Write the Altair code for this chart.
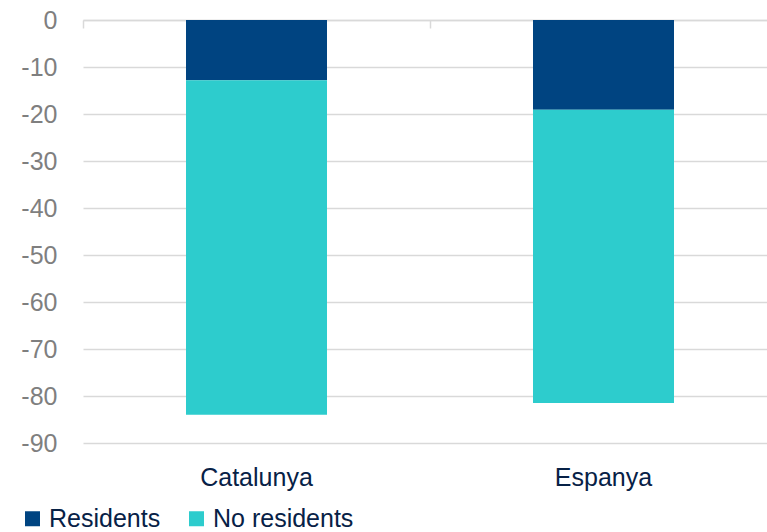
import altair as alt
import pandas as pd

regions = ["Catalunya", "Catalunya", "Espanya", "Espanya"]
groups = ["Residents", "No residents", "Residents", "No residents"]
values = [-12.8, -71.2, -19.1, -62.4]
stack_order = [0, 1, 0, 1]
y_ticks = [0, -10, -20, -30, -40, -50, -60, -70, -80, -90]

df = pd.DataFrame({"region": regions, "group": groups, "value": values, "ord": stack_order})

FONT = "Liberation Sans"
xscale = alt.Scale(domain=["Catalunya", "Espanya"], paddingInner=0, paddingOuter=0, range=[0, 694])

bars = alt.Chart(df).mark_bar(size=141).encode(
    x=alt.X("region:N", scale=xscale, sort=["Catalunya", "Espanya"],
            axis=alt.Axis(orient="bottom", title=None, labelAngle=0, domain=False, ticks=False,
                          labelFontSize=25, labelColor="#072146", labelFont=FONT, labelPadding=22,
                          grid=False)),
    y=alt.Y("value:Q", scale=alt.Scale(domain=[-90, 0], nice=False),
            axis=alt.Axis(title=None, values=y_ticks, domain=False, ticks=False, labelFontSize=25,
                          labelColor="#7f7f7f", labelFont=FONT, labelPadding=26,
                          labelExpr="toString(datum.value)",
                          gridColor="#d9d9d9", gridWidth=1.5)),
    color=alt.Color("group:N", scale=alt.Scale(domain=["Residents", "No residents"],
                                               range=["#004481", "#2dcccd"]),
                    legend=alt.Legend(title=None, orient="none", legendX=-63, legendY=486,
                                      direction="horizontal", symbolType="square", symbolSize=225,
                                      symbolStrokeWidth=0, labelFontSize=25, labelColor="#072146",
                                      labelFont=FONT, columnPadding=23, labelOffset=4)),
    order=alt.Order("ord:Q"),
)

topaxis = alt.Chart(df).mark_bar(opacity=0).encode(
    x=alt.X("region:N", scale=xscale, sort=["Catalunya", "Espanya"],
            axis=alt.Axis(orient="top", title=None, labels=False, domain=True, ticks=True,
                          tickSize=0, domainColor="#d9d9d9", domainWidth=1.5,
                          bandPosition=0, grid=False)),
    y=alt.Y("value:Q"),
)

tickaxis = alt.Chart(df).mark_bar(opacity=0).encode(
    x=alt.X("region:N", scale=xscale, sort=["Catalunya", "Espanya"],
            axis=alt.Axis(orient="bottom", offset=-423, title=None, labels=False, domain=False,
                          ticks=True, tickSize=8, tickColor="#d9d9d9", tickWidth=1.5,
                          bandPosition=0, grid=False)),
    y=alt.Y("value:Q"),
)

chart = alt.layer(bars, topaxis, tickaxis).resolve_axis(x="independent").properties(
    width=684, height=423,
    autosize=alt.AutoSizeParams(type="none"),
    padding={"left": 83, "top": 20, "right": 0, "bottom": 89},
).configure_view(stroke=None).configure_axisY(grid=True)

chart.save("out.html", embed_options={"renderer": "svg", "actions": False})
